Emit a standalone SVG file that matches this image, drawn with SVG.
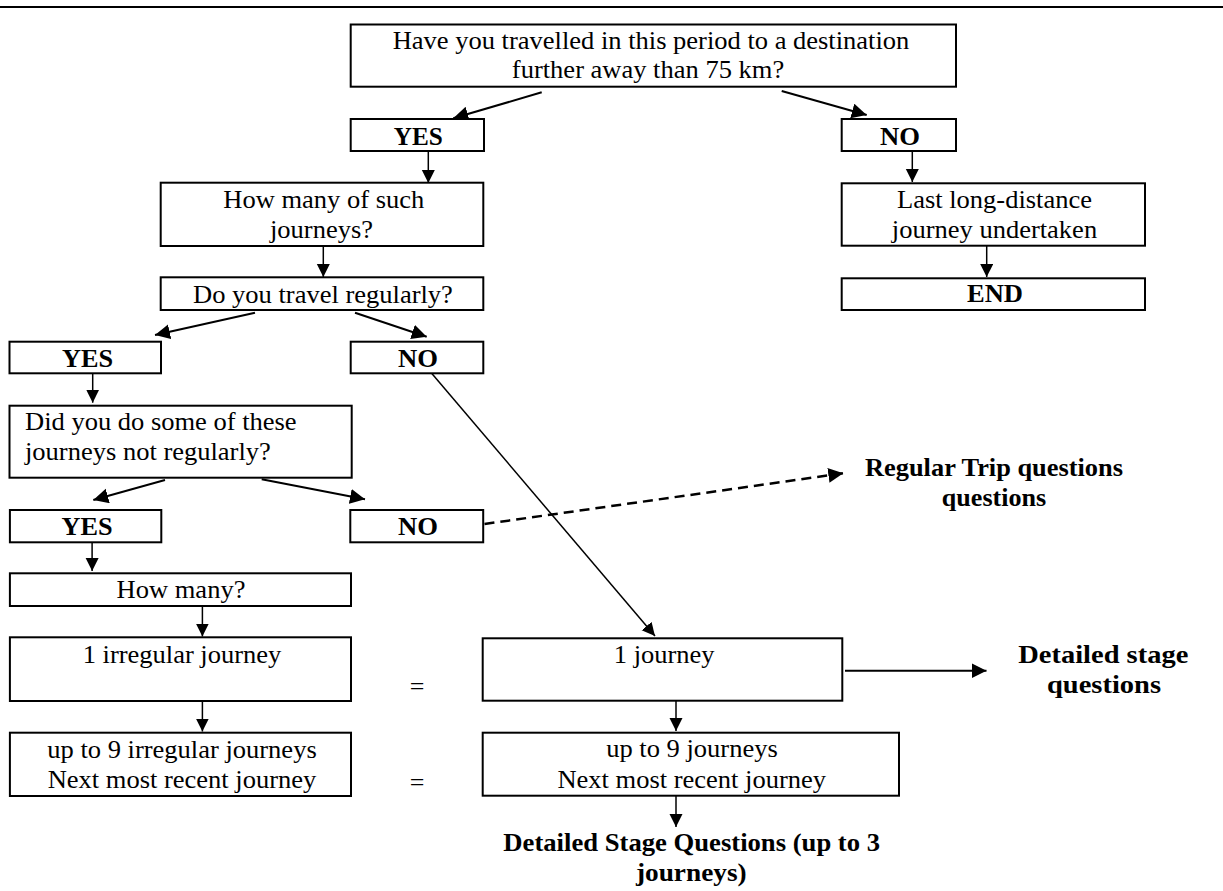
<svg xmlns="http://www.w3.org/2000/svg" width="1223" height="891" viewBox="0 0 1223 891">
<style>
.bx{fill:#fff;stroke:#000;stroke-width:2}
.t{font-family:"Liberation Serif","Times New Roman",Times,serif;font-size:26px;fill:#000}
.b{font-family:"Liberation Serif","Times New Roman",Times,serif;font-size:26px;font-weight:bold;fill:#000}
.c{text-anchor:middle}
.ln{stroke:#000;stroke-width:1.5;fill:none}
.lt{stroke:#000;stroke-width:2;fill:none}
.ds{stroke:#000;stroke-width:2.5;fill:none;stroke-dasharray:10 6}
</style>
<defs>
<marker id="ah" markerUnits="userSpaceOnUse" markerWidth="14" markerHeight="14" refX="13" refY="6.5" orient="auto">
<path d="M0,0 L13,6.5 L0,13 z" fill="#000"/>
</marker>
<marker id="ahb" markerUnits="userSpaceOnUse" markerWidth="16" markerHeight="16" refX="15" refY="7.5" orient="auto">
<path d="M0,0 L15,7.5 L0,15 z" fill="#000"/>
</marker>
</defs>
<rect width="1223" height="891" fill="#fff"/>
<line x1="0" y1="7" x2="1223" y2="7" stroke="#000" stroke-width="2.2"/>

<g id="connectors">
<line class="lt" x1="541.7" y1="92.3" x2="453.3" y2="118.3" marker-end="url(#ahb)"/>
<line class="lt" x1="781.7" y1="91" x2="866.7" y2="115" marker-end="url(#ahb)"/>
<line class="ln" x1="428.3" y1="148" x2="428.3" y2="183" marker-end="url(#ah)"/>
<line class="ln" x1="912.3" y1="148" x2="912.3" y2="182" marker-end="url(#ah)"/>
<line class="ln" x1="986.7" y1="244" x2="986.7" y2="277" marker-end="url(#ah)"/>
<line class="ln" x1="323.3" y1="246" x2="323.3" y2="277" marker-end="url(#ah)"/>
<line class="lt" x1="255" y1="312.7" x2="155" y2="335" marker-end="url(#ahb)"/>
<line class="lt" x1="355" y1="312.7" x2="426.7" y2="336.7" marker-end="url(#ahb)"/>
<line class="ln" x1="92.7" y1="372" x2="92.7" y2="402.7" marker-end="url(#ah)"/>
<line class="lt" x1="165" y1="480" x2="93.3" y2="500" marker-end="url(#ahb)"/>
<line class="lt" x1="261.7" y1="479.3" x2="365" y2="499.3" marker-end="url(#ahb)"/>
<line class="ln" x1="92.1" y1="541" x2="92.1" y2="571" marker-end="url(#ah)"/>
<line class="ln" x1="202.4" y1="606" x2="202.4" y2="636.5" marker-end="url(#ah)"/>
<line class="ln" x1="202.4" y1="697" x2="202.4" y2="731.5" marker-end="url(#ah)"/>
<line class="ln" x1="428" y1="369" x2="655" y2="636" marker-end="url(#ah)"/>
<line class="lt" x1="845" y1="670.7" x2="986.5" y2="670.7" marker-end="url(#ahb)"/>
<line class="ln" x1="676" y1="699" x2="676" y2="731" marker-end="url(#ah)"/>
<line class="ln" x1="676" y1="794" x2="676" y2="827" marker-end="url(#ah)"/>
<line class="ds" x1="484.5" y1="524" x2="843.3" y2="473.3" marker-end="url(#ahb)"/>
</g>

<g id="n_top">
<rect class="bx" x="350.7" y="24.5" width="605.3" height="62.2"/>
<text class="t c" x="651" y="48.5" textLength="516.7" lengthAdjust="spacingAndGlyphs">Have you travelled in this period to a destination</text>
<text class="t c" x="648" y="78" textLength="272.3" lengthAdjust="spacingAndGlyphs">further away than 75 km?</text>
</g>
<g id="n_yes1">
<rect class="bx" x="350.7" y="119" width="133.3" height="32"/>
<text class="b c" x="418.3" y="145" textLength="49" lengthAdjust="spacingAndGlyphs">YES</text>
</g>
<g id="n_no1">
<rect class="bx" x="841.7" y="119" width="114.3" height="32"/>
<text class="b c" x="900" y="145" textLength="40" lengthAdjust="spacingAndGlyphs">NO</text>
</g>
<g id="n_last">
<rect class="bx" x="841.7" y="183.3" width="303.3" height="62.4"/>
<text class="t c" x="994.5" y="208" textLength="195" lengthAdjust="spacingAndGlyphs">Last long-distance</text>
<text class="t c" x="994.5" y="238" textLength="205.3" lengthAdjust="spacingAndGlyphs">journey undertaken</text>
</g>
<g id="n_end">
<rect class="bx" x="841.7" y="278.3" width="303.3" height="31.7"/>
<text class="b c" x="995" y="302.3" textLength="56" lengthAdjust="spacingAndGlyphs">END</text>
</g>
<g id="n_howmanysuch">
<rect class="bx" x="160.7" y="182.7" width="322.6" height="63.3"/>
<text class="t c" x="323.8" y="208" textLength="200.9" lengthAdjust="spacingAndGlyphs">How many of such</text>
<text class="t c" x="321.5" y="238" textLength="103" lengthAdjust="spacingAndGlyphs">journeys?</text>
</g>
<g id="n_regularly">
<rect class="bx" x="160.7" y="277.3" width="322.6" height="32.7"/>
<text class="t c" x="323" y="302.7" textLength="259.8" lengthAdjust="spacingAndGlyphs">Do you travel regularly?</text>
</g>
<g id="n_yes2">
<rect class="bx" x="9.5" y="341.7" width="151.5" height="31.6"/>
<text class="b c" x="87.5" y="366.7" textLength="51" lengthAdjust="spacingAndGlyphs">YES</text>
</g>
<g id="n_no2">
<rect class="bx" x="350.7" y="341.7" width="132.6" height="31.6"/>
<text class="b c" x="418" y="366.7" textLength="40" lengthAdjust="spacingAndGlyphs">NO</text>
</g>
<g id="n_didyou">
<rect class="bx" x="9.5" y="405.7" width="342.2" height="72"/>
<text class="t" x="25" y="430" textLength="271.6" lengthAdjust="spacingAndGlyphs">Did you do some of these</text>
<text class="t" x="25" y="460" textLength="245.8" lengthAdjust="spacingAndGlyphs">journeys not regularly?</text>
</g>
<g id="n_yes3">
<rect class="bx" x="9.9" y="510" width="151.4" height="32.3"/>
<text class="b c" x="87" y="535" textLength="51" lengthAdjust="spacingAndGlyphs">YES</text>
</g>
<g id="n_no3">
<rect class="bx" x="350.3" y="510" width="132.9" height="32.3"/>
<text class="b c" x="418" y="535" textLength="40" lengthAdjust="spacingAndGlyphs">NO</text>
</g>
<g id="n_howmany">
<rect class="bx" x="9.9" y="573.3" width="341.1" height="32.7"/>
<text class="t c" x="181" y="598.3" textLength="128.8" lengthAdjust="spacingAndGlyphs">How many?</text>
</g>
<g id="n_1irr">
<rect class="bx" x="9.9" y="637.3" width="341.1" height="63.7"/>
<text class="t c" x="182" y="662.7" textLength="198.7" lengthAdjust="spacingAndGlyphs">1 irregular journey</text>
</g>
<g id="n_9irr">
<rect class="bx" x="9.9" y="732.7" width="341.1" height="63.3"/>
<text class="t c" x="182" y="758" textLength="269.4" lengthAdjust="spacingAndGlyphs">up to 9 irregular journeys</text>
<text class="t c" x="182" y="788.3" textLength="268.6" lengthAdjust="spacingAndGlyphs">Next most recent journey</text>
</g>
<g id="eq1"><text class="t c" x="417" y="694.5">=</text></g>
<g id="eq2"><text class="t c" x="417" y="790.5">=</text></g>
<g id="n_1j">
<rect class="bx" x="482.7" y="638.3" width="359.6" height="62.4"/>
<text class="t c" x="664.2" y="662.7" textLength="100.8" lengthAdjust="spacingAndGlyphs">1 journey</text>
</g>
<g id="n_9j">
<rect class="bx" x="482.7" y="732.7" width="416.3" height="63"/>
<text class="t c" x="692" y="757.3" textLength="171.5" lengthAdjust="spacingAndGlyphs">up to 9 journeys</text>
<text class="t c" x="691.7" y="787.5" textLength="268.6" lengthAdjust="spacingAndGlyphs">Next most recent journey</text>
</g>
<g id="n_regular_trip">
<text class="b c" x="994" y="476" textLength="258" lengthAdjust="spacingAndGlyphs">Regular Trip questions</text>
<text class="b c" x="994" y="506" textLength="104.4" lengthAdjust="spacingAndGlyphs">questions</text>
</g>
<g id="n_detailed_stage">
<text class="b c" x="1103.3" y="663" textLength="170" lengthAdjust="spacingAndGlyphs">Detailed stage</text>
<text class="b c" x="1104" y="693" textLength="114" lengthAdjust="spacingAndGlyphs">questions</text>
</g>
<g id="n_detailed_q">
<text class="b c" x="691.7" y="851" textLength="376.7" lengthAdjust="spacingAndGlyphs">Detailed Stage Questions (up to 3</text>
<text class="b c" x="691.3" y="880.5" textLength="110.7" lengthAdjust="spacingAndGlyphs">journeys)</text>
</g>
</svg>
